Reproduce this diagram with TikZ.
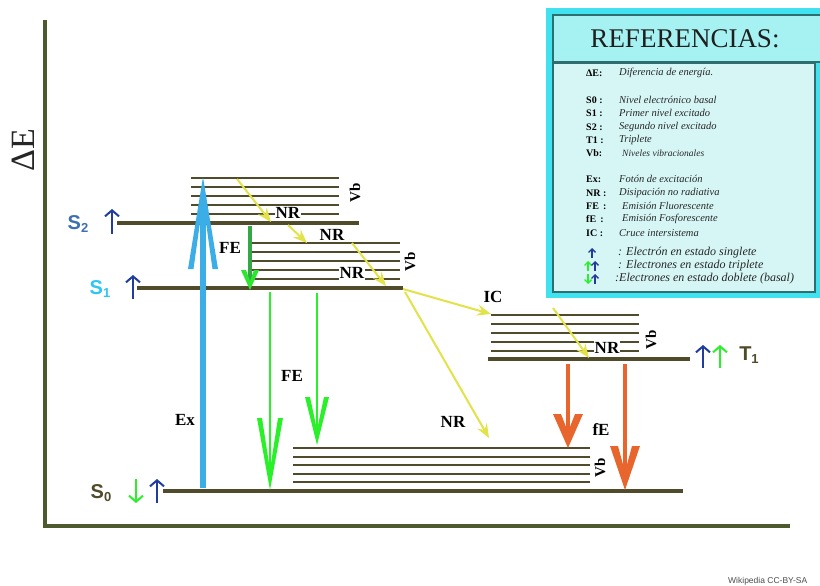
\documentclass[tikz,border=0pt]{standalone}
\usepackage{fontspec}
\setmainfont{Liberation Serif}
\newfontfamily\sansf{Liberation Sans}
\usetikzlibrary{arrows.meta}
\definecolor{lev}{HTML}{504B2A}
\definecolor{axisc}{HTML}{4C5A2E}
\definecolor{exblue}{HTML}{3BAEE8}
\definecolor{brgreen}{HTML}{2AF02A}
\definecolor{dkgreen}{HTML}{34A845}
\definecolor{nryel}{HTML}{E2E24A}
\definecolor{orng}{HTML}{E8662E}
\definecolor{navy}{HTML}{203C9C}
\definecolor{stblue}{HTML}{3F6FB2}
\definecolor{skycyan}{HTML}{2EC6F2}
\definecolor{legouter}{HTML}{3FE2EE}
\definecolor{legtitle}{HTML}{A6F2F2}
\definecolor{legbody}{HTML}{D6F6F6}
\definecolor{legline}{HTML}{2E6E6E}
\newcommand\lvllabel[2]{{\sansf\bfseries\fontsize{20}{20}\selectfont #1\raisebox{-3pt}{\fontsize{13}{13}\selectfont #2}}}
% chevron heads: colour, tip, half width w, length L, back thickness t, notch n
\newcommand\uphead[6]{\fill[#1] (#2) -- ++(-#3,#4) -- ++(#5,0) -- ++({#3-#5},{#6-#4}) -- ++({#3-#5},{#4-#6}) -- ++(#5,0) -- cycle;}
\newcommand\downhead[6]{\fill[#1] (#2) -- ++(-#3,-#4) -- ++(#5,0) -- ++({#3-#5},{#4-#6}) -- ++({#3-#5},{#6-#4}) -- ++(#5,0) -- cycle;}
\tikzset{
  levelline/.style={lev, line width=4pt},
  vibline/.style={lev, line width=2.6pt},
  lab/.style={font=\bfseries\fontsize{17}{17}\selectfont, inner sep=1pt},
  nrlab/.style={lab, fill=white},
  vblab/.style={font=\bfseries\fontsize{15}{15}\selectfont, rotate=90, inner sep=0.5pt},
  yarrow/.style={nryel, line width=2pt, -{Stealth[length=14pt,width=11pt,inset=5pt]}},
  spinarrow/.style={line width=2pt, -{Straight Barb[length=6pt,width=14pt,line width=2pt]}},
  legarrow/.style={line width=1.3pt, -{Straight Barb[length=3.5pt,width=7pt,line width=1.3pt]}},
  legkey/.style={anchor=west, font=\bfseries\fontsize{10}{10}\selectfont, inner sep=0pt},
  legdesc/.style={anchor=west, font=\itshape\fontsize{10.5}{10.5}\selectfont, inner sep=0pt, text=black!85},
  legdescb/.style={anchor=west, font=\itshape\fontsize{12}{12}\selectfont, inner sep=0pt, text=black!85}
}
\begin{document}
\begin{tikzpicture}[x=1pt,y=-1pt]
\useasboundingbox (0,0) rectangle (820,586);
\clip (0,0) rectangle (820,586);
\fill[white] (0,0) rectangle (820,586);

% axes
\coordinate (axtop) at (45,20);
\coordinate (axorig) at (45,526);
\coordinate (axright) at (790,526);
\draw[axisc, line width=4pt] (axtop) -- (axorig) -- (axright);
\node[rotate=90, font=\fontsize{34}{34}\selectfont, text=black!85] (dE) at (23,150) {ΔE};

% vibrational and main levels
\foreach \y in {178,187,196,205,214} \draw[vibline] (191,\y) -- (339,\y);
\draw[levelline] (117,223) -- (359,223);
\foreach \y in {243,252,261,270,279} \draw[vibline] (252,\y) -- (400,\y);
\draw[levelline] (137,288) -- (403,288);
\foreach \y in {315,324,333,342,351} \draw[vibline] (491,\y) -- (639,\y);
\draw[levelline] (488,359) -- (690,359);
\foreach \y in {448,457,465,474,482} \draw[vibline] (293,\y) -- (590,\y);
\draw[levelline] (163,491) -- (683,491);

% Vb labels
\node[vblab] (vb2) at (355,193) {Vb};
\node[vblab] (vb1) at (410,262) {Vb};
\node[vblab] (vbt) at (651,340) {Vb};
\node[vblab] (vb0) at (600,468) {Vb};

% level labels
\node[text=stblue, inner sep=0pt] (S2) at (78,224) {\lvllabel{S}{2}};
\node[text=skycyan, inner sep=0pt] (S1) at (100,289) {\lvllabel{S}{1}};
\node[text=lev, inner sep=0pt] (S0) at (101,493) {\lvllabel{S}{0}};
\node[text=lev, inner sep=0pt] (T1) at (749,355) {\lvllabel{T}{1}};

% spin arrows
\coordinate (s2a) at (112,234); \coordinate (s2b) at (112,209);
\draw[spinarrow, navy] (s2a) -- (s2b);
\coordinate (s1a) at (133,299); \coordinate (s1b) at (133,275);
\draw[spinarrow, navy] (s1a) -- (s1b);
\coordinate (s0ga) at (136,479); \coordinate (s0gb) at (136,503);
\draw[spinarrow, brgreen] (s0ga) -- (s0gb);
\coordinate (s0ba) at (157,503); \coordinate (s0bb) at (157,479);
\draw[spinarrow, navy] (s0ba) -- (s0bb);
\coordinate (t1ba) at (703,368); \coordinate (t1bb) at (703,345);
\draw[spinarrow, navy] (t1ba) -- (t1bb);
\coordinate (t1ga) at (720,368); \coordinate (t1gb) at (720,345);
\draw[spinarrow, brgreen] (t1ga) -- (t1gb);

% excitation
\coordinate (exA) at (203,488); \coordinate (exB) at (203,177);
\draw[exblue, line width=6pt, shorten >=22pt] (exA) -- (exB);
\uphead{exblue}{exB}{15}{92}{5.5}{24}
\node[lab] (Ex) at (185,420) {Ex};

% fluorescence
\coordinate (fe0a) at (250,226); \coordinate (fe0b) at (250,290);
\draw[dkgreen, line width=3.5pt, shorten >=8pt] (fe0a) -- (fe0b);
\downhead{brgreen!85!dkgreen}{fe0b}{9}{20}{5}{9}
\node[lab] (FE1) at (230,248) {FE};
\coordinate (fe1a) at (270,292); \coordinate (fe1b) at (270,490);
\draw[brgreen, line width=2.5pt, shorten >=16pt] (fe1a) -- (fe1b);
\downhead{brgreen}{fe1b}{13}{72}{5}{20}
\coordinate (fe2a) at (317,293); \coordinate (fe2b) at (317,445);
\draw[brgreen, line width=2.5pt, shorten >=12pt] (fe2a) -- (fe2b);
\downhead{brgreen}{fe2b}{12}{48}{5}{15}
\node[lab] (FE2) at (292,376) {FE};

% phosphorescence
\coordinate (fo1a) at (568,364); \coordinate (fo1b) at (568,448);
\draw[orng, line width=4.5pt, shorten >=14pt] (fo1a) -- (fo1b);
\downhead{orng}{fo1b}{15}{34}{8}{16}
\coordinate (fo2a) at (625,364); \coordinate (fo2b) at (625,490);
\draw[orng, line width=4.5pt, shorten >=16pt] (fo2a) -- (fo2b);
\downhead{orng}{fo2b}{15}{44}{8}{18}
\node[lab] (fE) at (601,430) {fE};

% non-radiative and intersystem crossing
\coordinate (nr1a) at (237,179); \coordinate (nr1b) at (271,222);
\coordinate (nr2a) at (288,225); \coordinate (nr2b) at (307,243);
\coordinate (nr3a) at (352,243); \coordinate (nr3b) at (386,286);
\coordinate (ica) at (403,289); \coordinate (icb) at (491,314);
\coordinate (nr4a) at (405,292); \coordinate (nr4b) at (489,438);
\coordinate (nr5a) at (553,308); \coordinate (nr5b) at (589,358);
\node[nrlab] (NR1) at (288,213) {NR};
\node[nrlab] (NR2) at (332,235) {NR};
\node[nrlab] (NR3) at (352,273) {NR};
\node[nrlab] (NR5) at (607,348) {NR};
\draw[yarrow] (nr1a) -- (nr1b);
\draw[yarrow] (nr2a) -- (nr2b);
\draw[yarrow] (nr3a) -- (nr3b);
\draw[yarrow] (ica) -- (icb);
\draw[yarrow] (nr4a) -- (nr4b);
\draw[yarrow] (nr5a) -- (nr5b);
\node[lab] (IC) at (493,297) {IC};
\node[lab] (NR4) at (453,422) {NR};

% legend
\fill[legouter] (546,8) rectangle (830,298);
\draw[legline, line width=1.2pt, fill=legtitle] (553,15) rectangle (830,62);
\draw[legline, line width=1.2pt, fill=legbody] (553,63) rectangle (815,292);
\node[font=\fontsize{27}{27}\selectfont, text=black!88] (title) at (685,39) {REFERENCIAS:};

\node[legkey] (k1) at (586,73) {ΔE:};          \node[legdesc] (d1) at (619,73) {Diferencia de energía.};
\node[legkey] (k2) at (586,100) {S0 :};        \node[legdesc] (d2) at (619,100) {Nivel electrónico basal};
\node[legkey] (k3) at (586,113) {S1 :};        \node[legdesc] (d3) at (619,113) {Primer nivel excitado};
\node[legkey] (k4) at (586,127) {S2 :};        \node[legdesc] (d4) at (619,127) {Segundo nivel excitado};
\node[legkey] (k5) at (586,140) {T1 :};        \node[legdesc] (d5) at (619,140) {Triplete};
\node[legkey] (k6) at (586,153) {Vb:};         \node[legdesc, font=\itshape\fontsize{9.5}{9.5}\selectfont] (d6) at (622,153) {Niveles vibracionales};
\node[legkey] (k7) at (586,179) {Ex:};         \node[legdesc] (d7) at (619,179) {Fotón de excitación};
\node[legkey] (k8) at (586,193) {NR :};        \node[legdesc] (d8) at (619,193) {Disipación no radiativa};
\node[legkey] (k9) at (586,206) {FE \,:};      \node[legdesc] (d9) at (622,206) {Emisión Fluorescente};
\node[legkey] (k10) at (586,219) {fE \,:};     \node[legdesc] (d10) at (622,219) {Emisión Fosforescente};
\node[legkey] (k11) at (586,233) {IC :};       \node[legdesc] (d11) at (619,233) {Cruce intersistema};

\coordinate (la1) at (592,258); \coordinate (lb1) at (592,248);
\draw[legarrow, navy] (la1) -- (lb1);
\node[legdescb] (d12) at (618,253) {: Electrón en estado singlete};
\coordinate (la2) at (588,271); \coordinate (lb2) at (588,261);
\draw[legarrow, brgreen] (la2) -- (lb2);
\coordinate (la3) at (595,271); \coordinate (lb3) at (595,261);
\draw[legarrow, navy] (la3) -- (lb3);
\node[legdescb] (d13) at (618,266) {: Electrones en estado triplete};
\coordinate (la4) at (588,274) ; \coordinate (lb4) at (588,284);
\draw[legarrow, brgreen] (la4) -- (lb4);
\coordinate (la5) at (595,284); \coordinate (lb5) at (595,274);
\draw[legarrow, navy] (la5) -- (lb5);
\node[legdescb] (d14) at (615,279) {:Electrones en estado doblete (basal)};

\node[anchor=west, font=\sansf\fontsize{8.5}{8.5}\selectfont, text=black!70, inner sep=0pt] (wiki) at (728,581) {Wikipedia CC-BY-SA};
\end{tikzpicture}
\end{document}
